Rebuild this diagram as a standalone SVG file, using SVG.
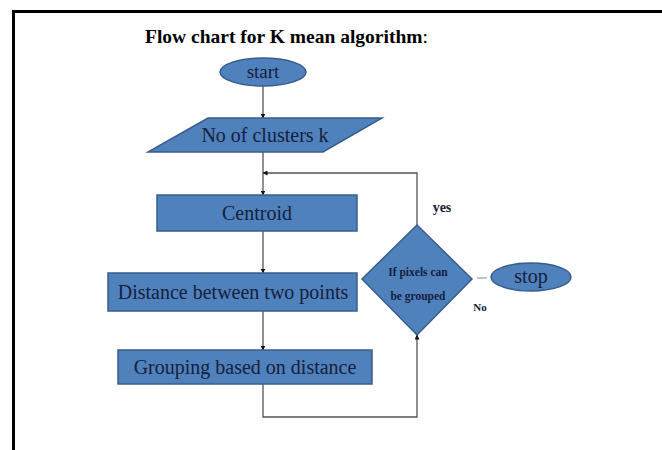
<svg xmlns="http://www.w3.org/2000/svg" width="662" height="450" viewBox="0 0 662 450">
<style>
.shape{fill:#4F81BD;stroke:#385D8A;stroke-width:1.5}
.lbl{fill:#16203a;text-anchor:middle;dominant-baseline:central}
.conn{fill:none;stroke:#555;stroke-width:1.3}
.small{font-weight:bold;fill:#16203a;text-anchor:middle;dominant-baseline:central}
</style>
<defs>
<marker id="arr" viewBox="0 0 10 10" refX="9" refY="5" markerWidth="5" markerHeight="5" orient="auto" markerUnits="userSpaceOnUse">
<path d="M0,0 L10,5 L0,10 z" fill="#111"/>
</marker>
</defs>
<rect width="662" height="450" fill="#fff"/>
<path d="M13.5,450 L13.5,11.5 L662,11.5" fill="none" stroke="#000" stroke-width="3"/>
<g font-family="Liberation Serif, serif">
<text x="145" y="43" font-size="19.5" font-weight="bold" fill="#000">Flow chart for K mean algorithm<tspan font-weight="normal">:</tspan></text>
<g id="connectors">
<line class="conn" x1="263" y1="86" x2="263" y2="118" marker-end="url(#arr)"/>
<line class="conn" x1="263" y1="152" x2="263" y2="195" marker-end="url(#arr)"/>
<line class="conn" x1="263" y1="231" x2="263" y2="273" marker-end="url(#arr)"/>
<line class="conn" x1="263" y1="311" x2="263" y2="350" marker-end="url(#arr)"/>
<path class="conn" d="M263,384 L263,417 L417,417 L417,335" marker-end="url(#arr)"/>
<path class="conn" d="M417,225 L417,173 L263,173" marker-end="url(#arr)"/>
<line x1="477" y1="278" x2="487" y2="278" stroke="#9bb0cc" stroke-width="1.5"/>
</g>
<g id="start">
<ellipse class="shape" cx="263" cy="72" rx="43" ry="14"/>
<text class="lbl" x="263" y="71" font-size="19">start</text>
</g>
<g id="clusters">
<polygon class="shape" points="208,118 382,118 323,152 148,152"/>
<text class="lbl" x="265" y="135" font-size="20">No of clusters k</text>
</g>
<g id="centroid">
<rect class="shape" x="157" y="195" width="200" height="36"/>
<text class="lbl" x="257" y="213" font-size="20">Centroid</text>
</g>
<g id="distance">
<rect class="shape" x="108" y="273" width="249" height="38"/>
<text class="lbl" x="233" y="292" font-size="20">Distance between two points</text>
</g>
<g id="grouping">
<rect class="shape" x="118" y="350" width="254" height="34"/>
<text class="lbl" x="245" y="367" font-size="20">Grouping based on distance</text>
</g>
<g id="decision">
<polygon class="shape" points="417,225 472,279 417,335 362,279"/>
<text class="small" x="418" y="272" font-size="11.5">If  pixels can</text>
<text class="small" x="418" y="296" font-size="11.5">be grouped</text>
</g>
<g id="stop">
<ellipse class="shape" cx="531" cy="277" rx="40" ry="14"/>
<text class="lbl" x="531" y="276" font-size="20">stop</text>
</g>
<text class="small" x="442" y="207" font-size="14">yes</text>
<text class="small" x="480" y="307" font-size="11">No</text>
</g>
</svg>
